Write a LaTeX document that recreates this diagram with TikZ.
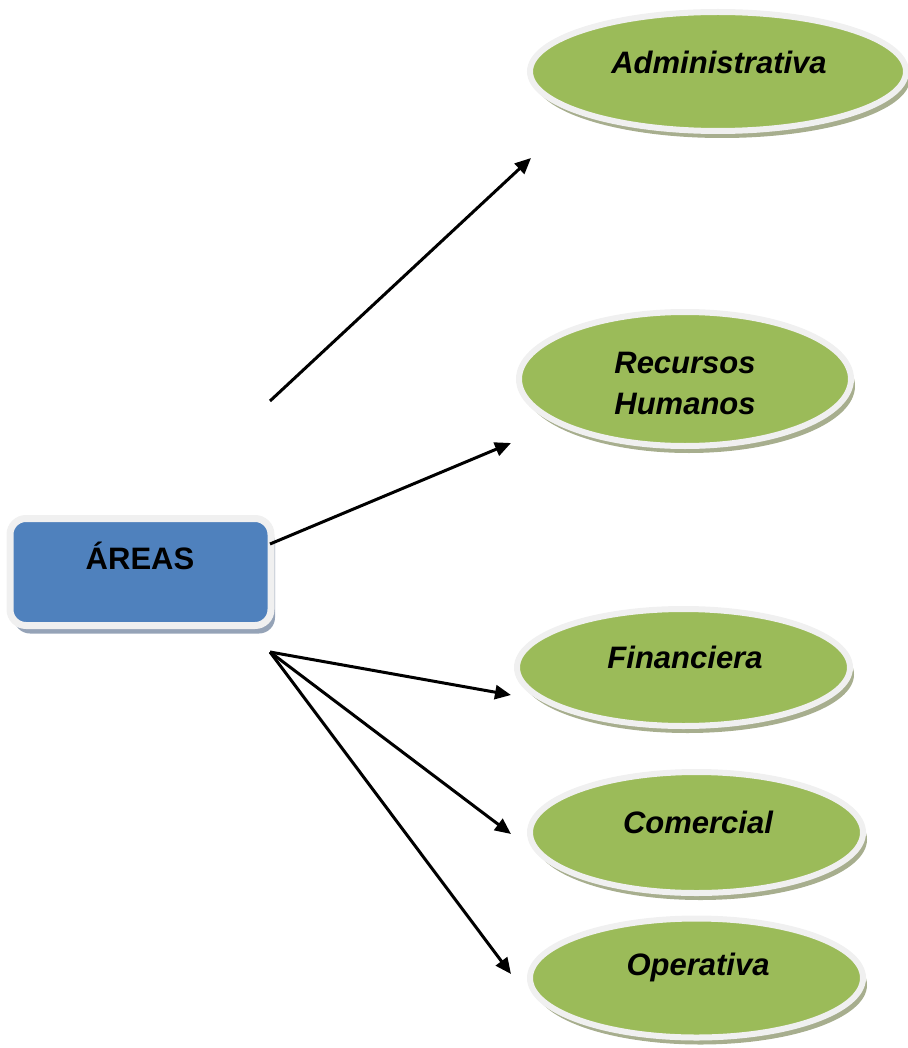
\documentclass[tikz,border=0pt]{standalone}
\usepackage{fontspec}
\setmainfont{Liberation Sans}
\usetikzlibrary{shapes.geometric,arrows.meta,shadows}
\definecolor{leaf}{HTML}{9BBB59}
\definecolor{sky}{HTML}{4F81BD}
\definecolor{rim}{HTML}{F0F0F0}
\definecolor{leafshadow}{HTML}{A7AE8E}
\definecolor{skyshadow}{HTML}{95A3B7}
\tikzset{
  area/.style={ellipse, inner sep=0pt, fill=leaf, draw=rim, line width=6pt,
    general shadow={fill=leafshadow, shadow xshift=4pt, shadow yshift=-7pt}},
  mainbox/.style={rectangle, rounded corners=16pt, inner sep=0pt, fill=sky, draw=rim, line width=7pt,
    minimum width=261pt, minimum height=107pt,
    general shadow={fill=skyshadow, shadow xshift=4pt, shadow yshift=-8pt}},
  label/.style={font=\fontsize{31}{41}\selectfont\bfseries\itshape, align=center, inner sep=0pt},
  conn/.style={line width=3pt, -{Triangle[length=16pt,width=14pt]}}
}
\begin{document}
\begin{tikzpicture}[x=1pt,y=-1pt]
\useasboundingbox (0,0) rectangle (907,1048);
\node[mainbox] (areas) at (140.5,572) {};
\node[font=\fontsize{31}{36}\selectfont\bfseries, inner sep=0pt] (areastext) at (140,556) {ÁREAS};

\node[area, minimum width=376pt, minimum height=119pt] (adm) at (718,71.5) {};
\node[label] (admt) at (719,62) {Administrativa};

\node[area, minimum width=332pt, minimum height=134pt] (rh) at (685,379) {};
\node[label] (rht) at (685,383) {Recursos\\Humanos};

\node[area, minimum width=333pt, minimum height=117pt] (fin) at (683.5,667.5) {};
\node[label] (fint) at (685,657) {Financiera};

\node[area, minimum width=333pt, minimum height=121pt] (com) at (696.5,832.5) {};
\node[label] (comt) at (698,822) {Comercial};

\node[area, minimum width=333pt, minimum height=119pt] (ope) at (696.5,978) {};
\node[label] (opet) at (698,967) {Operativa};

\coordinate (s1) at (270,401);
\coordinate (e1) at (531,158);
\coordinate (s2) at (270,544);
\coordinate (e2) at (511,443);
\coordinate (s3) at (270,652);
\coordinate (e3) at (511,695);
\coordinate (e4) at (511,834);
\coordinate (e5) at (511,974);

\draw[conn] (s1) -- (e1);
\draw[conn] (s2) -- (e2);
\draw[conn] (s3) -- (e3);
\draw[conn] (s3) -- (e4);
\draw[conn] (s3) -- (e5);
\end{tikzpicture}
\end{document}
